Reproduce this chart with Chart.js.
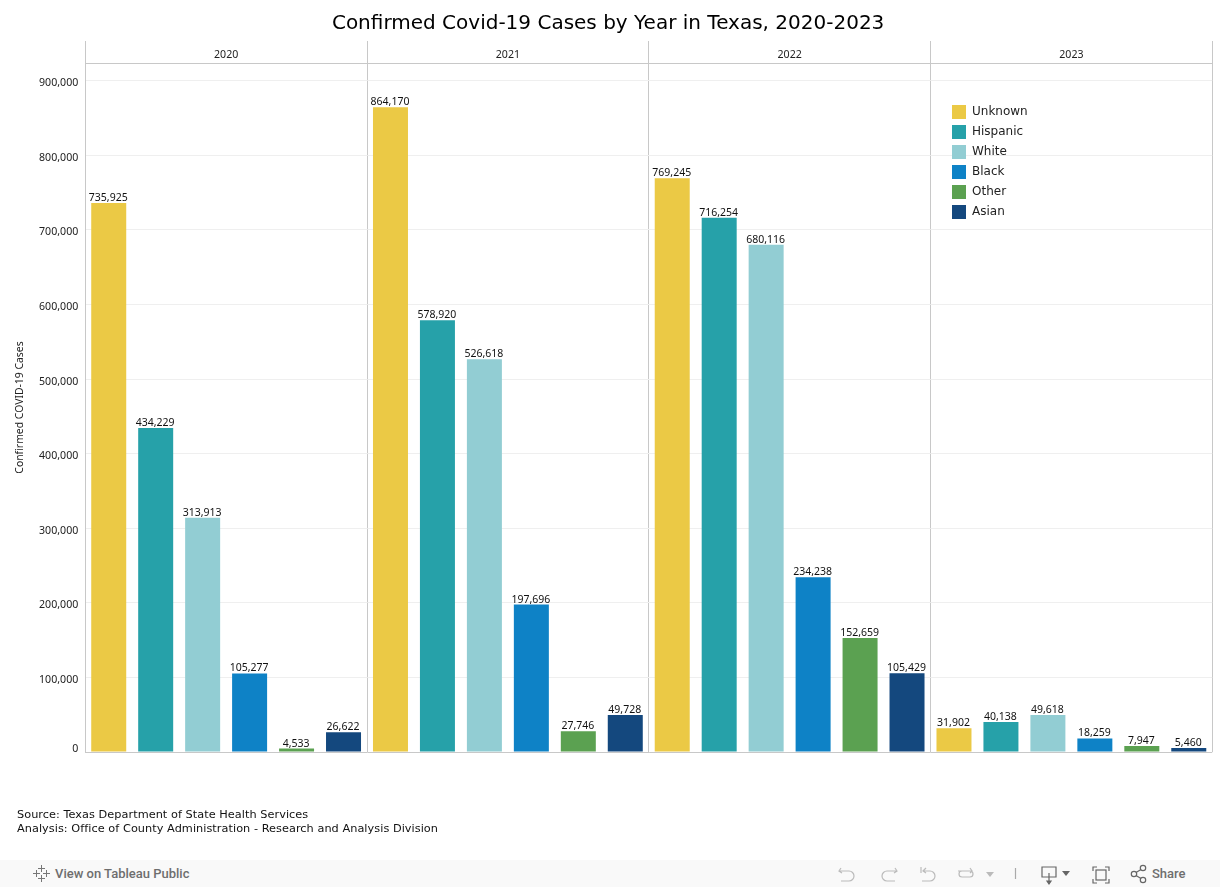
<!DOCTYPE html>
<html>
<head>
<meta charset="utf-8">
<script src="https://cdn.jsdelivr.net/npm/chart.js@4"></script>
<style>
html,body{margin:0;padding:0;background:#fff;width:1220px;height:887px;overflow:hidden}
#wrap{position:relative;width:1220px;height:887px}
canvas{position:absolute;left:0;top:0}
#source{position:absolute;left:17px;top:808px;font:11.3px/14px "DejaVu Sans",sans-serif;letter-spacing:.04px;color:#111;white-space:nowrap}
#bar{position:absolute;left:0;top:860px;width:1220px;height:27px;background:#f9f9f9;color:#6e6e6e;font:500 13px/27px Roboto,sans-serif}
#bar span{position:absolute;top:0}
#bar svg{position:absolute;top:0;left:0}
</style>
</head>
<body>
<div id="wrap">
<canvas id="c" width="1220" height="887"></canvas>
<div id="source">Source: Texas Department of State Health Services<br>Analysis: Office of County Administration - Research and Analysis Division</div>
<div id="bar">
<svg width="1220" height="27" fill="none" stroke="#bbb" stroke-width="1.2">
<g stroke="#777" stroke-width="1"><path d="M41.500 5v7M38 8.500h7M41.500 15v7M38 18.500h7M36.500 10v7M33 13.500h7M46.500 10v7M43 13.500h7"/></g>
<path d="M841 8l-2 3 3 2M840 11h9a5 5 0 0 1 0 10h-8"/>
<path d="M895 8l2 3-3 2M896 11h-9a5 5 0 0 0 0 10h8"/>
<path d="M921 7v6M926 8l-3 3 3 2M924 11h6a5 5 0 0 1 0 10h-8"/>
<path d="M958 11h12M970 17h-8a3 3 0 0 1 0-6M970 8l2 3-2 2M970 11a3 3 0 0 1 0 6"/>
<path d="M986 12h8l-4 5z" fill="#bbb" stroke="none"/>
<path d="M1015.500 8v11" stroke="#aaa"/>
<g stroke="#666"><path d="M1049 17h-7v-10h14v10h-7M1049 13v9"/><path d="M1047 21h4l-2 3z" fill="#666"/><path d="M1062 11h8l-4 5z" fill="#666" stroke="none"/>
<path d="M1093 11V7h4M1105 7h4v4M1109 19v4h-4M1097 23h-4v-4"/><rect x="1096" y="10" width="10" height="10"/>
<circle cx="1134" cy="14" r="2.700"/><circle cx="1143" cy="8" r="2.700"/><circle cx="1143" cy="20" r="2.700"/><path d="M1136 12.500l5-3M1136 15.500l5 3"/></g>
</svg>
<span style="left:55px">View on Tableau Public</span>
<span style="left:1152px">Share</span>
</div>
</div>
<script>
const chartTitle = 'Confirmed Covid-19 Cases by Year in Texas, 2020-2023';
const yAxisTitle = 'Confirmed COVID-19 Cases';
const years = ['2020', '2021', '2022', '2023'];
const yTickValues = [0, 100000, 200000, 300000, 400000, 500000, 600000, 700000, 800000, 900000];
const unknownCases  = [735925, 864170, 769245, 31902];
const hispanicCases = [434229, 578920, 716254, 40138];
const whiteCases    = [313913, 526618, 680116, 49618];
const blackCases    = [105277, 197696, 234238, 18259];
const otherCases    = [4533, 27746, 152659, 7947];
const asianCases    = [26622, 49728, 105429, 5460];

const fmt = v => Number(v).toLocaleString('en-US');
const LINE = '#c8c8c8';
const valueFont = '10.5px "Noto Sans", sans-serif';

const valueLabels = {
  id: 'valueLabels',
  afterDatasetsDraw(chart) {
    const ctx = chart.ctx;
    ctx.save();
    ctx.font = valueFont;
    ctx.fillStyle = '#111';
    ctx.textAlign = 'center';
    ctx.textBaseline = 'alphabetic';
    chart.data.datasets.forEach((ds, i) => {
      chart.getDatasetMeta(i).data.forEach((bar, j) => {
        ctx.fillText(fmt(ds.data[j]), bar.x - 0.5, bar.y - 2);
      });
    });
    ctx.restore();
  }
};
const placeLegend = {
  id: 'placeLegend',
  afterLayout(chart) {
    chart.legend.left = 946;
    chart.legend.top = 99;
  }
};

const ds = (label, data, color) => ({
  label, data, backgroundColor: color, borderWidth: 0,
  categoryPercentage: 1, barPercentage: 35 / 46.96
});

new Chart(document.getElementById('c'), {
  type: 'bar',
  data: {
    labels: years,
    datasets: [
      ds('Unknown', unknownCases, '#ebc945'),
      ds('Hispanic', hispanicCases, '#26a1a9'),
      ds('White', whiteCases, '#92cdd3'),
      ds('Black', blackCases, '#0e82c6'),
      ds('Other', otherCases, '#5ba151'),
      ds('Asian', asianCases, '#14487e')
    ]
  },
  plugins: [valueLabels, placeLegend],
  options: {
    responsive: false,
    animation: false,
    layout: { padding: { left: 4, right: 7.75, top: 0, bottom: 135 } },
    plugins: {
      tooltip: { enabled: false },
      title: {
        display: true, text: chartTitle, color: '#000',
        font: { family: '"DejaVu Sans", sans-serif', size: 20, weight: 'normal', lineHeight: 1.2 },
        padding: { top: 12, bottom: 5 }
      },
      legend: {
        position: 'chartArea', align: 'start',
        labels: {
          boxWidth: 14, boxHeight: 14, padding: 6, color: '#222',
          font: { family: '"DejaVu Sans", sans-serif', size: 12 }
        }
      }
    },
    scales: {
      x: {
        position: 'top',
        afterFit(s) { s.height = 22; },
        grid: { offset: true, color: LINE, lineWidth: 1, drawTicks: true, tickLength: 22 },
        border: { display: true, color: LINE },
        ticks: {
          padding: -20, color: '#222', maxRotation: 0,
          font: { family: '"Noto Sans", sans-serif', size: 10.6 }
        }
      },
      y: {
        min: 0, max: 923600,
        afterFit(s) { s.width = 81.25; },
        afterBuildTicks(s) { s.ticks = yTickValues.map(value => ({ value })); },
        title: {
          display: true, text: yAxisTitle, color: '#222',
          font: { family: '"Noto Sans", sans-serif', size: 10.4 },
          padding: { top: 10, bottom: 0 }
        },
        grid: {
          color: c => c.tick && c.tick.value === 0 ? LINE : '#efefef',
          tickLength: 0, drawTicks: false
        },
        border: { display: true, color: LINE },
        ticks: {
          color: '#222', padding: 7, labelOffset: 2.5,
          font: { family: '"Noto Sans", sans-serif', size: 10.6, lineHeight: 1 },
          callback: v => v === 0 ? ['0', ''] : fmt(v)
        }
      }
    }
  }
});
</script>
</body>
</html>
